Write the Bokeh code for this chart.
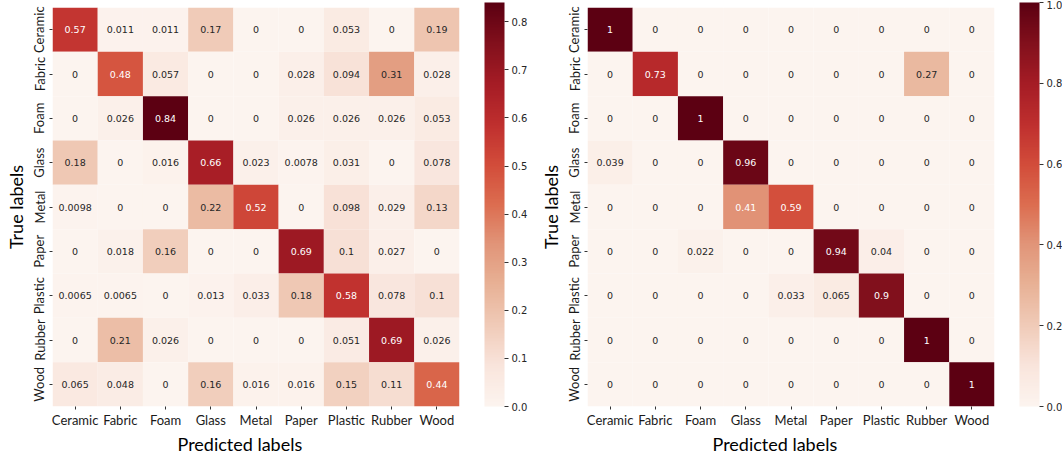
import numpy as np
from bokeh.plotting import figure
from bokeh.layouts import row
from bokeh.models import (ColumnDataSource, LinearColorMapper, ColorBar, FixedTicker,
                          PrintfTickFormatter, Title)
from bokeh.transform import transform
from bokeh.core.properties import value
from bokeh.embed import file_html
from bokeh.resources import INLINE

# ---------------- data ----------------
classes = ["Ceramic", "Fabric", "Foam", "Glass", "Metal", "Paper", "Plastic", "Rubber", "Wood"]

# rows = true label, columns = predicted label
cm_left = [
    [0.57,   0.011,  0.011, 0.17,  0,     0,      0.053, 0,     0.19],
    [0,      0.48,   0.057, 0,     0,     0.028,  0.094, 0.31,  0.028],
    [0,      0.026,  0.84,  0,     0,     0.026,  0.026, 0.026, 0.053],
    [0.18,   0,      0.016, 0.66,  0.023, 0.0078, 0.031, 0,     0.078],
    [0.0098, 0,      0,     0.22,  0.52,  0,      0.098, 0.029, 0.13],
    [0,      0.018,  0.16,  0,     0,     0.69,   0.1,   0.027, 0],
    [0.0065, 0.0065, 0,     0.013, 0.033, 0.18,   0.58,  0.078, 0.1],
    [0,      0.21,   0.026, 0,     0,     0,      0.051, 0.69,  0.026],
    [0.065,  0.048,  0,     0.16,  0.016, 0.016,  0.15,  0.11,  0.44],
]
cm_right = [
    [1,     0,    0,     0,    0,     0,     0,    0,    0],
    [0,     0.73, 0,     0,    0,     0,     0,    0.27, 0],
    [0,     0,    1,     0,    0,     0,     0,    0,    0],
    [0.039, 0,    0,     0.96, 0,     0,     0,    0,    0],
    [0,     0,    0,     0.41, 0.59,  0,     0,    0,    0],
    [0,     0,    0.022, 0,    0,     0.94,  0.04, 0,    0],
    [0,     0,    0,     0,    0.033, 0.065, 0.9,  0,    0],
    [0,     0,    0,     0,    0,     0,     0,    1,    0],
    [0,     0,    0,     0,    0,     0,     0,    0,    1],
]
left_vmax = 0.84
right_vmax = 1.0
left_ticks = [0.0, 0.1, 0.2, 0.3, 0.4, 0.5, 0.6, 0.7, 0.8]
right_ticks = [0.0, 0.2, 0.4, 0.6, 0.8, 1.0]

# ---------------- palette ----------------
anchors = ["#fcf4ef", "#f9e5dc", "#f0cbb8", "#e8b296", "#e19579", "#dc6d50",
           "#d24c3a", "#bf2f2e", "#a51c25", "#82101c", "#5c0012"]


def hex2rgb(h):
    return np.array([int(h[i:i + 2], 16) for i in (1, 3, 5)], dtype=float)


anc = np.array([hex2rgb(h) for h in anchors])
pos = np.linspace(0, 1, len(anchors))
palette = []
for t in np.linspace(0, 1, 256):
    rgb = [np.interp(t, pos, anc[:, k]) for k in range(3)]
    palette.append("#%02x%02x%02x" % tuple(int(round(c)) for c in rgb))

FRAME_W = 407
FRAME_H = 404
LEFT_B = 52
TOP_B = 7
FIG_H = 454


def make_panel(matrix, vmax, ticks, width):
    xs, ys, vs, labels, tcs = [], [], [], [], []
    for i, true_c in enumerate(classes):
        for j, pred_c in enumerate(classes):
            v = matrix[i][j]
            xs.append(pred_c)
            ys.append(true_c)
            vs.append(v)
            labels.append(format(v, ".2g"))
            tcs.append("#ffffff" if v / vmax > 0.4 else "#262626")
    src = ColumnDataSource(dict(x=xs, y=ys, v=vs, label=labels, tc=tcs))
    mapper = LinearColorMapper(palette=palette, low=0, high=vmax)

    p = figure(x_range=classes, y_range=classes[::-1], width=width, height=FIG_H,
               output_backend="svg", toolbar_location=None,
               min_border_left=LEFT_B, min_border_right=width - LEFT_B - FRAME_W,
               min_border_top=TOP_B, min_border_bottom=FIG_H - TOP_B - FRAME_H)
    p.outline_line_color = None
    p.background_fill_color = "white"
    p.border_fill_color = "white"
    p.grid.visible = False

    p.rect(x="x", y="y", width=1, height=1, source=src,
           fill_color=transform("v", mapper), line_color=None)
    p.text(x="x", y="y", text="label", text_color="tc", source=src,
           text_align="center", text_baseline="middle",
           text_font=value("DejaVu Sans"), text_font_size="9.5px")

    for ax in (p.xaxis, p.yaxis):
        ax.axis_line_color = None
        ax.major_tick_line_color = "#333333"
        ax.major_tick_out = 3
        ax.major_tick_in = 0
        ax.minor_tick_line_color = None
        ax.major_label_text_font = "Lato"
        ax.major_label_text_font_size = "13px"
        ax.major_label_text_color = "#1a1a1a"
        ax.major_label_standoff = 2
    p.yaxis.major_label_orientation = "vertical"
    p.yaxis.axis_label = "True labels"
    p.yaxis.axis_label_text_font = "Lato"
    p.yaxis.axis_label_text_font_size = "18px"
    p.yaxis.axis_label_text_font_style = "normal"
    p.yaxis.axis_label_text_color = "#000000"
    p.yaxis.axis_label_standoff = 2

    p.add_layout(Title(text="Predicted labels", align="left", offset=125, standoff=0,
                       text_font="Lato", text_font_size="18px",
                       text_font_style="normal", text_color="#000000"), "below")

    cb = ColorBar(color_mapper=mapper, location=(FRAME_W + 25, 0), width=20, height=FRAME_H,
                  padding=0, margin=0,
                  ticker=FixedTicker(ticks=ticks),
                  formatter=PrintfTickFormatter(format="%.1f"),
                  major_label_text_font="DejaVu Sans", major_label_text_font_size="10px",
                  major_label_text_color="#262626",
                  major_tick_out=4, major_tick_in=0, major_tick_line_color="#333333",
                  minor_tick_line_color=None, bar_line_color=None,
                  background_fill_alpha=0, border_line_color=None, label_standoff=3)
    p.add_layout(cb, "center")
    return p


p1 = make_panel(cm_left, left_vmax, left_ticks, 535)
p2 = make_panel(cm_right, right_vmax, right_ticks, 527)

layout = row(p1, p2)
open("out.html", "w").write(file_html(layout, INLINE))
